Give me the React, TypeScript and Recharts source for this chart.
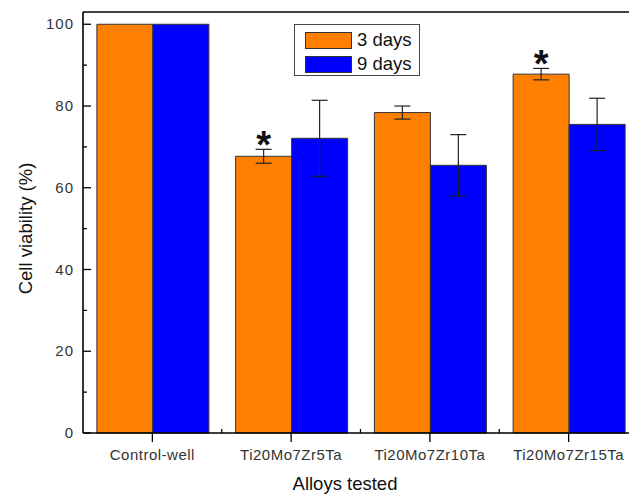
import React from "react";
import {
  BarChart,
  Bar,
  XAxis,
  YAxis,
  ErrorBar,
  Legend,
  LabelList,
  ReferenceLine,
} from "recharts";

const categories = ["Control-well", "Ti20Mo7Zr5Ta", "Ti20Mo7Zr10Ta", "Ti20Mo7Zr15Ta"];
const days3 = [100, 67.7, 78.4, 87.8];
const days3Err = [0, 1.7, 1.6, 1.4];
const days9 = [100, 72.1, 65.5, 75.5];
const days9Err = [0, 9.3, 7.5, 6.4];
const significance = ["", "*", "", "*"];
const yTicks = [0, 10, 20, 30, 40, 50, 60, 70, 80, 90, 100];

const data = categories.map((name, i) => ({
  name,
  d3: days3[i],
  d3Err: days3Err[i],
  d9: days9[i],
  d9Err: days9Err[i],
  sig: significance[i],
}));

const FONT = "'Liberation Sans', Arial, sans-serif";
const ORANGE = "#FF8000";
const BLUE = "#0000FF";

const YTick = (props: any) => {
  const { x, y, payload } = props;
  const major = payload.value % 20 === 0;
  return (
    <g>
      <line x1={x} x2={x + (major ? 8 : 4)} y1={y} y2={y} stroke="#000" strokeWidth={1.3} />
      {major && (
        <text
          x={x - 9}
          y={y + 5}
          textAnchor="end"
          fontSize={15}
          letterSpacing={1}
          fill="#333"
          fontFamily={FONT}
        >
          {payload.value}
        </text>
      )}
    </g>
  );
};

const XTick = (props: any) => {
  const { x, y, payload, width, visibleTicksCount } = props;
  const band = width / (visibleTicksCount || 4);
  return (
    <g>
      <line x1={x} x2={x} y1={y} y2={y + 9} stroke="#000" strokeWidth={1.3} />
      <line x1={x + band / 2} x2={x + band / 2} y1={y} y2={y - 4} stroke="#000" strokeWidth={1.3} />
      <text
        x={x}
        y={y + 27}
        textAnchor="middle"
        fontSize={15}
        letterSpacing={0.5}
        fill="#333"
        fontFamily={FONT}
      >
        {payload.value}
      </text>
    </g>
  );
};

const Star = (props: any) => {
  const { x, y, width, height, value, index } = props;
  const sig = data[index]?.sig;
  if (!sig) return null;
  const perUnit = height / value;
  const errTop = y - data[index].d3Err * perUnit;
  const cy = errTop - 13;
  return (
    <text
      x={x + width / 2}
      y={cy + 22}
      textAnchor="middle"
      fontSize={38}
      fontWeight="bold"
      fill="#111"
      fontFamily={FONT}
    >
      {sig}
    </text>
  );
};

const LegendBox = () => (
  <div
    style={{
      width: 124,
      height: 50,
      border: "1px solid #444",
      background: "#fff",
      fontFamily: FONT,
      fontSize: 18.5,
      color: "#111",
      boxSizing: "content-box",
    }}
  >
    {[
      { label: "3 days", color: ORANGE },
      { label: "9 days", color: BLUE },
    ].map((it, i) => (
      <div
        key={it.label}
        style={{ display: "flex", alignItems: "center", height: 24, marginTop: i === 0 ? 3 : 0 }}
      >
        <div
          style={{
            width: 45,
            height: 15,
            marginLeft: 10,
            marginRight: 5,
            background: it.color,
            border: "1px solid #333",
          }}
        />
        <span>{it.label}</span>
      </div>
    ))}
  </div>
);

export default function App() {
  return (
    <div
      style={{
        position: "absolute",
        left: 0,
        top: 0,
        width: 629,
        height: 496,
        overflow: "hidden",
        background: "#fff",
      }}
    >
      <BarChart
        width={640}
        height={496}
        data={data}
        margin={{ top: 12, right: 2, left: 0, bottom: 0 }}
        barCategoryGap="10%"
        barGap={0}
      >
        <XAxis
          dataKey="name"
          height={63}
          interval={0}
          tickSize={0}
          tickMargin={0}
          tick={<XTick />}
          axisLine={{ stroke: "#000", strokeWidth: 1.6 }}
          label={{
            content: (p: any) => (
              <text
                x={p.viewBox.x + 262}
                y={p.viewBox.y + 57}
                textAnchor="middle"
                fontSize={18.5}
                fill="#111"
                fontFamily={FONT}
              >
                Alloys tested
              </text>
            ),
          }}
        />
        <YAxis
          width={83}
          domain={[0, 103]}
          ticks={yTicks}
          interval={0}
          tickSize={0}
          tickMargin={0}
          tick={<YTick />}
          axisLine={{ stroke: "#000", strokeWidth: 1.6 }}
          label={{
            content: (p: any) => {
              const cx = 25;
              const cy = p.viewBox.y + p.viewBox.height / 2 + 6;
              return (
                <text
                  x={cx}
                  y={cy}
                  transform={`rotate(-90 ${cx} ${cy})`}
                  textAnchor="middle"
                  dominantBaseline="central"
                  fontSize={18.5}
                  fill="#111"
                  fontFamily={FONT}
                >
                  Cell viability (%)
                </text>
              );
            },
          }}
        />
        <ReferenceLine y={103} stroke="#000" strokeWidth={1.6} />
        <Legend
          layout="vertical"
          align="center"
          verticalAlign="middle"
          content={<LegendBox />}
          wrapperStyle={{ left: 294, top: 24, width: 126 }}
        />
        <Bar dataKey="d3" name="3 days" fill={ORANGE} stroke="#333" strokeWidth={1} isAnimationActive={false}>
          <ErrorBar dataKey="d3Err" width={8} stroke="#222" strokeWidth={1.2} direction="y" />
          <LabelList dataKey="d3" content={<Star />} />
        </Bar>
        <Bar dataKey="d9" name="9 days" fill={BLUE} stroke="#333" strokeWidth={1} isAnimationActive={false}>
          <ErrorBar dataKey="d9Err" width={8} stroke="#222" strokeWidth={1.2} direction="y" />
        </Bar>
      </BarChart>
    </div>
  );
}
